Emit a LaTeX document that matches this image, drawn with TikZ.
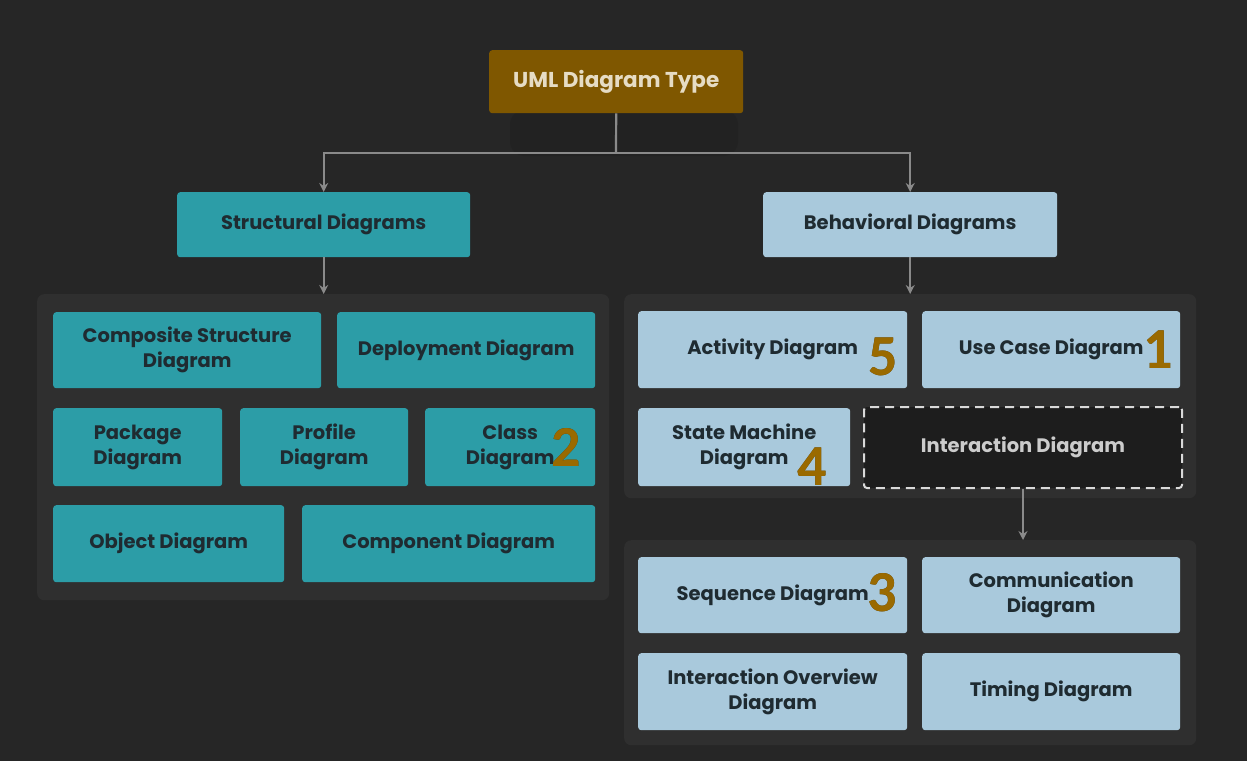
\documentclass[tikz,border=0pt]{standalone}
\usepackage{fontspec}
\usepackage[outline]{contour}
\newfontfamily\gothic{Poppins}
\newfontfamily\numfont{Carlito}
\usetikzlibrary{arrows.meta}
\definecolor{bg}{HTML}{262626}
\definecolor{contc}{HTML}{2F2F2F}
\definecolor{tealc}{HTML}{2C9DA7}
\definecolor{lightc}{HTML}{A9C9DC}
\definecolor{brownc}{HTML}{7F5700}
\definecolor{darktext}{HTML}{1F2B31}
\definecolor{cream}{HTML}{E6DCC4}
\definecolor{linec}{HTML}{8A8A8A}
\definecolor{numc}{HTML}{9A6A00}
\definecolor{numedge}{HTML}{4A3A12}
\definecolor{interc}{HTML}{1D1D1D}
\contourlength{1.5pt}
\tikzset{
  wh/.style 2 args={minimum width=#1pt, minimum height=#2pt},
  box/.style={anchor=north west, rounded corners=3pt, align=center, inner sep=2pt,
    font=\gothic\bfseries\fontsize{19.5}{25}\selectfont, text=darktext},
  tealbox/.style={box, fill=tealc},
  lightbox/.style={box, fill=lightc},
  cont/.style={anchor=north west, fill=contc, rounded corners=7pt, inner sep=0pt},
  conn/.style={draw=linec, line width=2.2pt},
  arr/.style={conn, -{Stealth[length=9pt,width=9pt]}},
  num/.style={font=\numfont\bfseries\fontsize{58}{58}\selectfont, text=numc, inner sep=0pt}
}
\newcommand{\numtxt}[1]{\contour{numedge}{#1}}
\begin{document}
\begin{tikzpicture}[x=1pt,y=-1pt]
\fill[bg] (0,0) rectangle (1247,761);
\useasboundingbox (0,0) rectangle (1247,761);
% faint shadow below title
\fill[fill=black!88, rounded corners=14pt, opacity=0.45] (510,110) rectangle (738,156);
% title
\node[box, fill=brownc, text=cream, font=\gothic\bfseries\fontsize{21.5}{25}\selectfont, wh={254}{63}] (uml) at (489,50) {UML Diagram Type};
% level 2
\node[tealbox, wh={293}{65}] (struct) at (177,192) {Structural Diagrams};
\node[lightbox, wh={294}{65}] (behav) at (763,192) {Behavioral Diagrams};
% containers
\node[cont, wh={572}{306}] (lc) at (37,294) {};
\node[cont, wh={572}{204}] (rc) at (624,294) {};
\node[cont, wh={572}{205}] (rb) at (624,540) {};
% structural boxes
\node[tealbox, wh={268}{76}] (comp) at (53,312) {Composite Structure\\Diagram};
\node[tealbox, wh={258}{76}] (depl) at (337,312) {Deployment Diagram};
\node[tealbox, wh={169}{78}] (pack) at (53,408) {Package\\Diagram};
\node[tealbox, wh={168}{78}] (prof) at (240,408) {Profile\\Diagram};
\node[tealbox, wh={170}{78}] (class) at (425,408) {Class\\Diagram};
\node[tealbox, wh={231}{77}] (obj) at (53,505) {Object Diagram};
\node[tealbox, wh={293}{77}] (compo) at (302,505) {Component Diagram};
% behavioral boxes
\node[lightbox, wh={269}{77}] (act) at (638,311) {Activity Diagram};
\node[lightbox, wh={258}{77}] (use) at (922,311) {Use Case Diagram};
\node[lightbox, wh={212}{78}] (state) at (638,408) {State Machine\\Diagram};
\node[box, fill=interc, draw=white!85!black, line width=2pt, dash pattern=on 9pt off 6pt,
      text=white!80!black, wh={318}{81}] (inter) at (863,406) {Interaction Diagram};
\node[lightbox, wh={269}{76}] (seq) at (638,557) {Sequence Diagram};
\node[lightbox, wh={258}{76}] (comm) at (922,557) {Communication\\Diagram};
\node[lightbox, wh={269}{77}] (iod) at (638,653) {Interaction Overview\\Diagram};
\node[lightbox, wh={258}{77}] (timing) at (922,653) {Timing Diagram};
% connectors
\coordinate (j) at (616,153);
\draw[conn] (uml.south) -- (j);
\draw[arr] (j) -| (struct.north);
\draw[arr] (j) -| (behav.north);
\draw[arr] (struct.south) -- (struct.south |- lc.north);
\draw[arr] (behav.south) -- (behav.south |- rc.north);
\draw[arr] (inter.south) -- (inter.south |- rb.north);
% numbers
\node[num] (n5) at (883,357) {\numtxt{5}};
\node[num] (n1) at (1158,350) {\numtxt{1}};
\node[num] (n2) at (566,447) {\numtxt{2}};
\node[num] (n4) at (812,467) {\numtxt{4}};
\node[num] (n3) at (882,593) {\numtxt{3}};
\end{tikzpicture}
\end{document}
